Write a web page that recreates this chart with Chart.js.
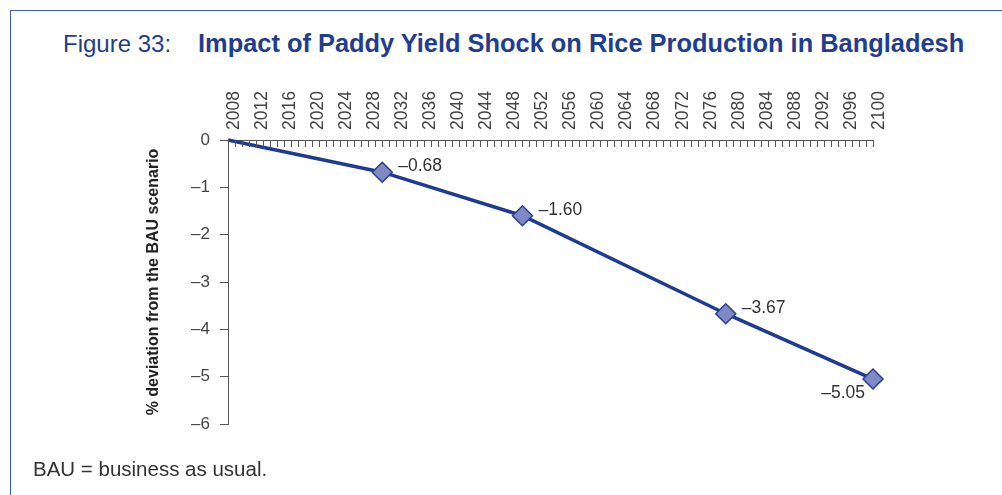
<!DOCTYPE html>
<html>
<head>
<meta charset="utf-8">
<script src="https://cdn.jsdelivr.net/npm/chart.js@4.4.1/dist/chart.umd.min.js"></script>
<style>
  html, body { margin: 0; padding: 0; background: #fff; overflow: hidden; }
  body { width: 1002px; height: 495px; position: relative; font-family: "Liberation Sans", Arial, sans-serif; }
  #frame { position: absolute; left: 10px; top: 10px; width: 1100px; height: 600px; border-left: 1.5px solid #3f5ca8; border-top: 1.5px solid #3f5ca8; }
  #title { position: absolute; left: 63px; top: 29px; font-size: 24px; color: #1f3d91; white-space: nowrap; }
  #title b { margin-left: 27px; font-size: 25.4px; }
  #note { position: absolute; left: 33px; top: 457px; font-size: 20.5px; color: #333; white-space: nowrap; }
  canvas { position: absolute; left: 0; top: 0; }
</style>
</head>
<body>
<div id="frame"></div>
<div id="title">Figure 33:<b>Impact of Paddy Yield Shock on Rice Production in Bangladesh</b></div>
<canvas id="chart" width="1002" height="495"></canvas>
<div id="note">BAU = business as usual.</div>
<script>
// Percentage deviation of rice production from the BAU scenario
const years = [2008, 2030, 2050, 2079, 2100];
const deviation = [0, -0.68, -1.60, -3.67, -5.05];
const yearTicks = [2008, 2012, 2016, 2020, 2024, 2028, 2032, 2036, 2040, 2044, 2048,
  2052, 2056, 2060, 2064, 2068, 2072, 2076, 2080, 2084, 2088, 2092, 2096, 2100];
const valueTicks = [0, -1, -2, -3, -4, -5, -6];

const DASH = '\u2013';
const fmt = v => (v < 0 ? DASH : '') + Math.abs(v);
const fmt2 = v => (v < 0 ? DASH : '') + Math.abs(v).toFixed(2);

// Yearly minor tick marks hanging below the top axis line
const yearMarks = {
  id: 'yearMarks',
  afterDraw(chart) {
    const x = chart.scales.x, ctx = chart.ctx, top = chart.chartArea.top;
    ctx.save();
    ctx.strokeStyle = '#555';
    ctx.lineWidth = 1;
    ctx.beginPath();
    for (let yr = x.min; yr <= x.max; yr++) {
      const px = Math.round(x.getPixelForValue(yr)) + 0.5;
      ctx.moveTo(px, top);
      ctx.lineTo(px, top + 7);
    }
    ctx.stroke();
    ctx.restore();
  }
};

// Value labels beside the markers
const valueLabels = {
  id: 'valueLabels',
  afterDatasetsDraw(chart) {
    const ctx = chart.ctx;
    const meta = chart.getDatasetMeta(0);
    const last = deviation.length - 1;
    ctx.save();
    ctx.font = '17.5px "Liberation Sans", Arial, sans-serif';
    ctx.fillStyle = '#333';
    ctx.textBaseline = 'middle';
    meta.data.forEach((pt, i) => {
      if (i === 0) return;
      const text = fmt2(deviation[i]);
      if (i === last) {
        ctx.textAlign = 'right';
        ctx.fillText(text, pt.x - 8, pt.y + 14);
      } else {
        ctx.textAlign = 'left';
        ctx.fillText(text, pt.x + 16, pt.y - 6);
      }
    });
    ctx.restore();
  }
};

new Chart(document.getElementById('chart'), {
  type: 'line',
  data: {
    datasets: [{
      data: years.map((yr, i) => ({ x: yr, y: deviation[i] })),
      borderColor: '#1f3a93',
      borderWidth: 3.5,
      pointStyle: 'rectRot',
      pointRadius: years.map((_, i) => i === 0 ? 0 : 10),
      pointBackgroundColor: '#7f89c4',
      pointBorderColor: '#2b3f96',
      pointBorderWidth: 1.5,
      tension: 0,
      clip: false
    }]
  },
  options: {
    responsive: false,
    animation: false,
    events: [],
    layout: { padding: { left: 140, top: 85, right: 129, bottom: 71 } },
    plugins: { legend: { display: false }, tooltip: { enabled: false } },
    scales: {
      x: {
        type: 'linear',
        position: 'top',
        min: 2008,
        max: 2100,
        afterBuildTicks: s => { s.ticks = yearTicks.map(v => ({ value: v })); },
        afterFit: s => { s.height = 55; },
        grid: { drawOnChartArea: false, drawTicks: false },
        border: { color: '#555', width: 1 },
        ticks: {
          autoSkip: false,
          minRotation: 90,
          maxRotation: 90,
          padding: 10,
          labelOffset: 27,
          color: '#444',
          font: { size: 17.5, family: '"Liberation Sans", Arial, sans-serif' },
          callback: v => String(v)
        }
      },
      y: {
        min: -6,
        max: 0,
        afterBuildTicks: s => { s.ticks = valueTicks.map(v => ({ value: v })); },
        afterFit: s => { s.width = 88; },
        grid: { drawOnChartArea: false, tickLength: 8, tickColor: '#555' },
        border: { color: '#555', width: 1 },
        ticks: {
          padding: 10,
          color: '#444',
          font: { size: 17, family: '"Liberation Sans", Arial, sans-serif' },
          callback: v => fmt(v)
        },
        title: {
          display: true,
          text: '% deviation from the BAU scenario',
          color: '#222',
          font: { size: 16, weight: 'bold', family: '"Liberation Sans", Arial, sans-serif' }
        }
      }
    }
  },
  plugins: [yearMarks, valueLabels]
});
</script>
</body>
</html>
